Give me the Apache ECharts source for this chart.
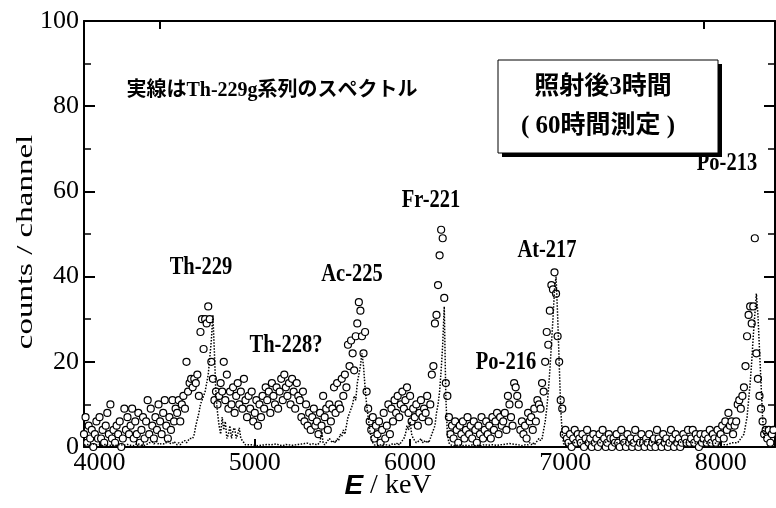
<!DOCTYPE html>
<html><head><meta charset="utf-8">
<script src="https://cdn.jsdelivr.net/npm/echarts@6/dist/echarts.min.js"></script>
<style>html,body{margin:0;padding:0;background:#fff}#c{width:776px;height:508px}</style>
</head><body><div id="c"></div>
<script>
// channel calibration: energy (keV) of first channel and channel width
const E0 = 3900, STEP = 10;

// measured counts per channel (open circles), 10 channels per row starting at the row's energy
const counts = [
/*3900*/ 3,7,1,5,2,4,0,3,6,2,
/*4000*/ 7,2,4,1,5,8,3,10,2,4,
/*4100*/ 1,5,3,6,0,2,9,4,7,3,
/*4200*/ 5,9,2,6,3,8,1,4,7,2,
/*4300*/ 6,11,3,9,5,2,7,4,10,6,
/*4400*/ 3,8,11,5,2,7,4,11,6,9,
/*4500*/ 8,11,6,10,12,9,20,13,15,16,
/*4600*/ 14,16,15,17,12,27,30,23,30,29,
/*4700*/ 33,30,20,16,11,13,10,12,15,13,
/*4800*/ 20,11,17,9,13,10,14,8,12,15,
/*4900*/ 10,13,9,16,11,7,12,9,13,6,
/*5000*/ 8,11,5,10,7,12,9,14,11,13,
/*5100*/ 8,15,12,10,14,9,13,16,11,17,
/*5200*/ 14,12,15,10,16,13,9,15,12,11,
/*5300*/ 7,13,6,10,5,8,4,7,9,5,
/*5400*/ 6,3,8,5,12,7,9,4,10,6,
/*5500*/ 9,14,8,15,10,9,16,12,17,14,
/*5600*/ 24,19,25,22,18,26,29,34,32,26,
/*5700*/ 22,27,13,9,6,4,7,2,5,3,
/*5800*/ 6,1,4,8,2,5,10,3,9,6,
/*5900*/ 11,8,12,7,10,13,9,11,14,8,
/*6000*/ 12,6,9,7,10,5,8,11,7,9,
/*6100*/ 8,12,6,10,17,19,29,31,38,45,
/*6200*/ 51,49,35,15,12,7,3,5,2,6,
/*6300*/ 4,1,5,3,6,2,4,7,3,5,
/*6400*/ 2,6,4,1,5,3,7,2,4,6,
/*6500*/ 3,5,2,7,4,6,8,3,7,5,
/*6600*/ 6,8,4,12,10,7,5,15,14,12,
/*6700*/ 10,4,6,3,5,2,8,6,7,4,
/*6800*/ 9,6,11,10,9,15,13,20,27,24,
/*6900*/ 32,38,37,41,36,26,20,11,9,3,
/*7000*/ 4,2,1,3,0,2,4,1,3,2,
/*7100*/ 1,3,0,2,4,1,2,0,3,1,
/*7200*/ 2,0,3,1,4,2,0,1,3,2,
/*7300*/ 0,2,1,3,1,0,4,2,1,0,
/*7400*/ 3,1,2,0,1,4,2,0,1,3,
/*7500*/ 1,0,2,1,3,0,1,2,0,4,
/*7600*/ 2,1,0,3,1,2,0,1,4,2,
/*7700*/ 0,3,1,2,0,1,3,2,1,4,
/*7800*/ 1,2,4,1,3,2,0,3,1,2,
/*7900*/ 3,1,2,4,1,3,2,1,4,2,
/*8000*/ 3,5,2,6,4,8,5,6,3,5,
/*8100*/ 6,10,11,9,12,14,19,26,31,33,
/*8200*/ 29,33,49,22,16,12,9,6,3,4,
/*8300*/ 2,4,1,3,4
];

// simulated Th-229g chain spectrum (dotted line), same channels
const simulated = [
/*3900*/ 0.5,0.3,0.6,0.4,0.5,0.3,0.7,0.4,0.5,0.3,
/*4000*/ 0.6,0.4,0.3,0.5,0.7,0.4,0.3,0.6,0.5,0.4,
/*4100*/ 0.3,0.5,0.6,0.4,0.5,0.7,0.4,0.3,0.6,0.5,
/*4200*/ 0.4,0.6,0.3,0.5,0.8,0.4,0.6,0.5,0.3,0.7,
/*4300*/ 0.5,0.8,1,0.6,1.2,0.7,0.9,1.3,0.6,1,
/*4400*/ 0.8,1.2,0.7,1,1.4,0.9,1.1,0.8,1.3,1,
/*4500*/ 0.5,1,0.5,1,1,1.5,1,1.5,2,2,
/*4600*/ 2,3,5,6.5,8,10,11,12,13,15,
/*4700*/ 17,21,25,31,22,12,8,5,3,7,
/*4800*/ 4,6,2,3,5,2,4,4.5,2,3,
/*4900*/ 4.5,2,1.5,1,0.5,0.5,0.5,0.3,0.5,0.3,
/*5000*/ 0.4,0.6,0.3,0.5,0.4,0.7,0.5,0.3,0.6,0.4,
/*5100*/ 0.5,0.3,0.6,0.4,0.7,0.5,0.4,0.6,0.3,0.5,
/*5200*/ 0.6,0.4,0.5,0.7,0.4,0.6,0.5,0.8,0.6,0.5,
/*5300*/ 0.7,0.5,0.8,0.6,0.9,0.7,0.6,1,0.8,0.7,
/*5400*/ 0.5,0.5,1,4,1,0.5,1,1.5,2,1.5,
/*5500*/ 1,1.5,1,2,1.5,3,2.5,4,3,5,
/*5600*/ 7,8,9,10,12,11,15,17,19,22,
/*5700*/ 19,14,10,7,4,2,1,0.5,0.5,0.3,
/*5800*/ 0.3,0.5,0.3,0.6,0.4,0.5,0.7,0.4,0.6,0.8,
/*5900*/ 0.5,0.5,1,0.5,1,1.5,2,3,5,4,
/*6000*/ 6,3,2,1.5,1,1,1.5,2,1,1.5,
/*6100*/ 1,1.5,1,2,2,4,5,8,10,13,
/*6200*/ 18,24,33,12,3,1,0.5,0.5,0.3,0.5,
/*6300*/ 0.4,0.3,0.5,0.4,0.3,0.5,0.4,0.6,0.3,0.5,
/*6400*/ 0.5,0.4,0.3,0.6,0.4,0.5,0.3,0.4,0.6,0.5,
/*6500*/ 0.4,0.6,0.5,0.3,0.5,0.7,0.4,0.6,0.5,0.7,
/*6600*/ 0.6,0.5,0.7,0.6,0.8,0.5,0.7,0.9,0.6,0.8,
/*6700*/ 0.5,0.5,0.3,0.5,0.5,0.8,0.5,1,0.5,1,
/*6800*/ 0.5,1,1.5,2,1.5,2,4,6,9,13,
/*6900*/ 18,24,30,37,40,31,20,9,3,0.5,
/*7000*/ 0.5,0.8,1,0.9,1.2,1,0.8,1.1,1.3,0.9,
/*7100*/ 1,1.2,0.9,1.1,1.4,1,1.2,0.8,1.1,1.3,
/*7200*/ 0.9,1.1,1.3,1,1.2,0.9,1.1,1.4,1,1.2,
/*7300*/ 1.1,0.9,1.2,1,1.3,1.1,0.9,1.2,1,1.1,
/*7400*/ 1.3,1,1.2,0.9,1.1,1.4,1,1.2,0.9,1.1,
/*7500*/ 1,1.2,1.1,1.3,0.9,1.1,1.2,1,1.3,1.1,
/*7600*/ 1.2,0.9,1.1,1.3,1,1.2,1.1,0.9,1.2,1,
/*7700*/ 1.1,1.3,1,1.2,0.9,1.1,1.3,1,1.2,1.1,
/*7800*/ 1,1.2,1.1,0.9,1.2,1,1.1,1.3,1,1.2,
/*7900*/ 1.1,0.9,1.2,1,1.1,0.8,1,0.9,0.7,0.6,
/*8000*/ 0.5,0.6,0.8,0.5,0.9,0.6,0.8,1,0.7,1,
/*8100*/ 1,1,1.5,2,2.5,3,5,7,11,15,
/*8200*/ 20,26,31,36,31,23,15,7,2,4.7,
/*8300*/ 4.7,4.7,4.7,4.7,4.7
];

const xTickValues = [4000, 5000, 6000, 7000, 8000];
const xTopTickValues = [4390, 7890];
const yTickValues = [0, 20, 40, 60, 80, 100];
const peakNames = ['Th-229', 'Th-228?', 'Ac-225', 'Fr-221', 'Po-216', 'At-217', 'Po-213'];
const noteText = '実線はTh-229g系列のスペクトル';
const boxLines = ['照射後3時間', '( 60時間測定 )'];
const yTitle = 'counts / channel';

const energies = counts.map((_, i) => E0 + i * STEP);
const measured = counts.map((c, i) => [energies[i], c]);
const simLine = simulated.map((c, i) => [energies[i], c]);

const chart = echarts.init(document.getElementById('c'), null, {renderer: 'canvas'});
const SERIF = '"Liberation Serif", "Times New Roman", serif';
const JP = '"Liberation Serif", "Noto Sans CJK JP", serif';
const axisLineStyle = {color: '#000', width: 2};

const peakPos = [[201, 268], [286, 346], [352, 275], [431, 201], [506, 363], [547, 251], [727, 164]];
const graphics = [];
graphics.push({type: 'rect', shape: {x: 502, y: 64, width: 220, height: 93}, style: {fill: '#000'}});
graphics.push({type: 'rect', shape: {x: 498, y: 60, width: 220, height: 93}, style: {fill: '#fff', stroke: '#000', lineWidth: 1}});
peakNames.forEach((n, i) => {
  graphics.push({type: 'text', x: peakPos[i][0], y: peakPos[i][1], scaleX: 0.82, z: 10,
    style: {text: n, fontFamily: SERIF, fontWeight: 'bold', fontSize: 25, fill: '#000', align: 'center', verticalAlign: 'middle'}});
});
graphics.push({type: 'text', x: 272, y: 91,
  style: {text: noteText, fontFamily: JP, fontWeight: 'bold', fontSize: 20, fill: '#000', align: 'center', verticalAlign: 'middle'}});
graphics.push({type: 'text', x: 603, y: 88,
  style: {text: boxLines[0], fontFamily: JP, fontWeight: 'bold', fontSize: 25, fill: '#000', align: 'center', verticalAlign: 'middle'}});
graphics.push({type: 'text', x: 598, y: 127,
  style: {text: boxLines[1], fontFamily: JP, fontWeight: 'bold', fontSize: 25, fill: '#000', align: 'center', verticalAlign: 'middle'}});
graphics.push({type: 'text', x: 26, y: 242, rotation: Math.PI / 2, scaleX: 1.1, scaleY: 0.8,
  style: {text: yTitle, fontFamily: SERIF, fontSize: 30, fill: '#000', align: 'center', verticalAlign: 'middle'}});
graphics.push({type: 'text', x: 388, y: 486,
  style: {text: '{e|E}{k| / keV}', align: 'center', verticalAlign: 'middle',
    rich: {e: {fontFamily: '"Liberation Sans", Arial, sans-serif', fontStyle: 'italic', fontWeight: 'bold', fontSize: 28, fill: '#000'},
           k: {fontFamily: SERIF, fontSize: 28, fill: '#000'}}}});

const option = {
  animation: false,
  backgroundColor: '#fff',
  grid: {left: 84, right: 1, top: 21, bottom: 61},
  xAxis: [
    {type: 'value', min: 3900, max: 8350, position: 'bottom',
     axisLine: {show: true, onZero: false, lineStyle: axisLineStyle},
     axisTick: {show: true, inside: true, length: 8, customValues: xTickValues, lineStyle: {color: '#000', width: 2}},
     axisLabel: {customValues: xTickValues, formatter: v => String(v), color: '#000', fontFamily: SERIF, fontSize: 26, margin: 3},
     splitLine: {show: false}},
    {type: 'value', min: 3900, max: 8350, position: 'top',
     axisLine: {show: true, onZero: false, lineStyle: axisLineStyle},
     axisTick: {show: true, inside: true, length: 8, customValues: xTopTickValues, lineStyle: {color: '#000', width: 2}},
     axisLabel: {show: false}, splitLine: {show: false}}
  ],
  yAxis: [
    {type: 'value', min: 0, max: 100, interval: 20, position: 'left',
     axisLine: {show: true, onZero: false, lineStyle: axisLineStyle},
     axisTick: {show: true, inside: true, length: 11, lineStyle: {color: '#000', width: 2}},
     minorTick: {show: true, splitNumber: 2, length: 7, lineStyle: {color: '#000', width: 1.5}},
     axisLabel: {customValues: yTickValues, formatter: v => String(v), color: '#000', fontFamily: SERIF, fontSize: 26, margin: 5},
     splitLine: {show: false}},
    {type: 'value', min: 0, max: 100, interval: 20, position: 'right',
     axisLine: {show: true, onZero: false, lineStyle: axisLineStyle},
     axisTick: {show: true, inside: true, length: 11, lineStyle: {color: '#000', width: 2}},
     minorTick: {show: true, splitNumber: 2, length: 7, lineStyle: {color: '#000', width: 1.5}},
     axisLabel: {show: false}, splitLine: {show: false}}
  ],
  series: [
    {type: 'scatter', xAxisIndex: 0, yAxisIndex: 0, data: measured, symbol: 'circle', symbolSize: 7,
     itemStyle: {color: '#fff', borderColor: '#000', borderWidth: 1.2, opacity: 1}, z: 2, clip: false},
    {type: 'line', xAxisIndex: 0, yAxisIndex: 0, data: simLine, showSymbol: false, symbol: 'none',
     lineStyle: {color: '#000', width: 1.5, type: 'dotted'}, z: 3}
  ],
  graphic: graphics
};
chart.setOption(option);
</script></body></html>
